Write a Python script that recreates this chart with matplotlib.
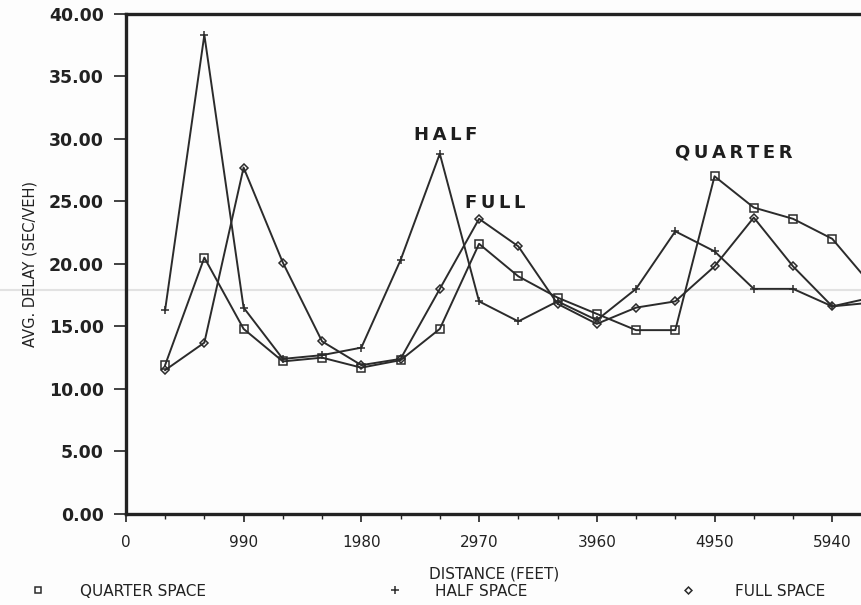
import matplotlib
matplotlib.use('Agg')
import matplotlib.pyplot as plt
from matplotlib.lines import Line2D
from matplotlib.ticker import MultipleLocator, FormatStrFormatter

# distance along the arterial (ft) and average delay (sec/veh)
distance = [330, 660, 990, 1320, 1650, 1980, 2310, 2640, 2970, 3300,
            3630, 3960, 4290, 4620, 4950, 5280, 5610, 5940, 6270]
quarter = [11.9, 20.5, 14.8, 12.2, 12.5, 11.7, 12.3, 14.8, 21.6, 19.0,
           17.3, 16.0, 14.7, 14.7, 27.0, 24.5, 23.6, 22.0, 18.3]
half = [16.3, 38.3, 16.5, 12.4, 12.7, 13.3, 20.3, 28.8, 17.0, 15.4,
        17.0, 15.5, 18.0, 22.6, 21.0, 18.0, 18.0, 16.6, 17.3]
full = [11.5, 13.7, 27.7, 20.1, 13.8, 11.9, 12.4, 18.0, 23.6, 21.4,
        16.8, 15.2, 16.5, 17.0, 19.8, 23.7, 19.8, 16.6, 16.9]

x_major = [0, 990, 1980, 2970, 3960, 4950, 5940]
legend_names = ['QUARTER SPACE', 'HALF SPACE', 'FULL SPACE']
INK = '#2b2b2b'

fig = plt.figure(figsize=(8.62, 6.05), dpi=100)
fig.patch.set_facecolor('#fdfdfd')
ax = fig.add_axes([0.146, 0.1504, 0.854, 0.827])
ax.patch.set_visible(False)

# faint scan streak across the sheet
fig.add_artist(Line2D([0, 1], [0.521, 0.521], color='#e2e2e2', lw=1.5,
                      transform=fig.transFigure, zorder=0))

ax.plot(distance, quarter, color=INK, lw=1.4, marker='s', ms=5.5,
        mfc='none', mew=1.1)
ax.plot(distance, half, color=INK, lw=1.4, marker='+', ms=6, mew=1.1)
ax.plot(distance, full, color=INK, lw=1.4, marker='D', ms=3.8,
        mfc='none', mew=1.1)

ax.set_xlim(0, 6190)
ax.set_ylim(0, 40)

# axes frame like the plotter output: thick left/top/bottom, right cut off
for s in ['left', 'top', 'bottom']:
    ax.spines[s].set_linewidth(2.4)
    ax.spines[s].set_color('#222222')
ax.spines['right'].set_visible(False)

ax.set_xticks(x_major)
ax.xaxis.set_minor_locator(MultipleLocator(330))
ax.yaxis.set_major_locator(MultipleLocator(5))
ax.yaxis.set_major_formatter(FormatStrFormatter('%.2f'))
ax.tick_params(axis='y', direction='out', length=9, width=1.2, colors='#222222',
               labelsize=12.5, pad=7)
ax.tick_params(axis='x', which='major', direction='out', length=6, width=1.2,
               colors='#222222', labelsize=11, pad=9)
ax.tick_params(axis='x', which='minor', direction='out', length=3.5, width=1.0,
               colors='#222222')
for lab in ax.get_yticklabels():
    lab.set_fontweight('bold')

ax.set_ylabel('AVG. DELAY (SEC/VEH)', fontsize=10.5, color='#222222', labelpad=8)

# curve labels
lab_kw = dict(fontsize=13, fontweight='bold', color='#1e1e1e', ha='center', va='center')
ax.text(2691, 30.3, 'H\u2009A\u2009L\u2009F', **lab_kw)
ax.text(3104, 24.9, 'F\u2009U\u2009L\u2009L', **lab_kw)
ax.text(5113, 28.9, 'Q\u2009U\u2009A\u2009R\u2009T\u2009E\u2009R', **lab_kw)

fig.text(0.573, 0.052, 'DISTANCE (FEET)', fontsize=11, color='#222222',
         ha='center', va='center')

# legend row under the axis title
leg_y = 0.022
marks = [('s', 5, 0.044, 0.093), ('+', 6, 0.458, 0.505), ('D', 3.5, 0.798, 0.853)]
for (m, ms, mx, tx), name in zip(marks, legend_names):
    fig.add_artist(Line2D([mx], [leg_y + 0.003], marker=m, ms=ms, mfc='none',
                          mec=INK, mew=1.1, ls='none', transform=fig.transFigure))
    fig.text(tx, leg_y, name, fontsize=11, color='#222222', ha='left', va='center')

fig.savefig('out.png', dpi=100, facecolor=fig.get_facecolor())
